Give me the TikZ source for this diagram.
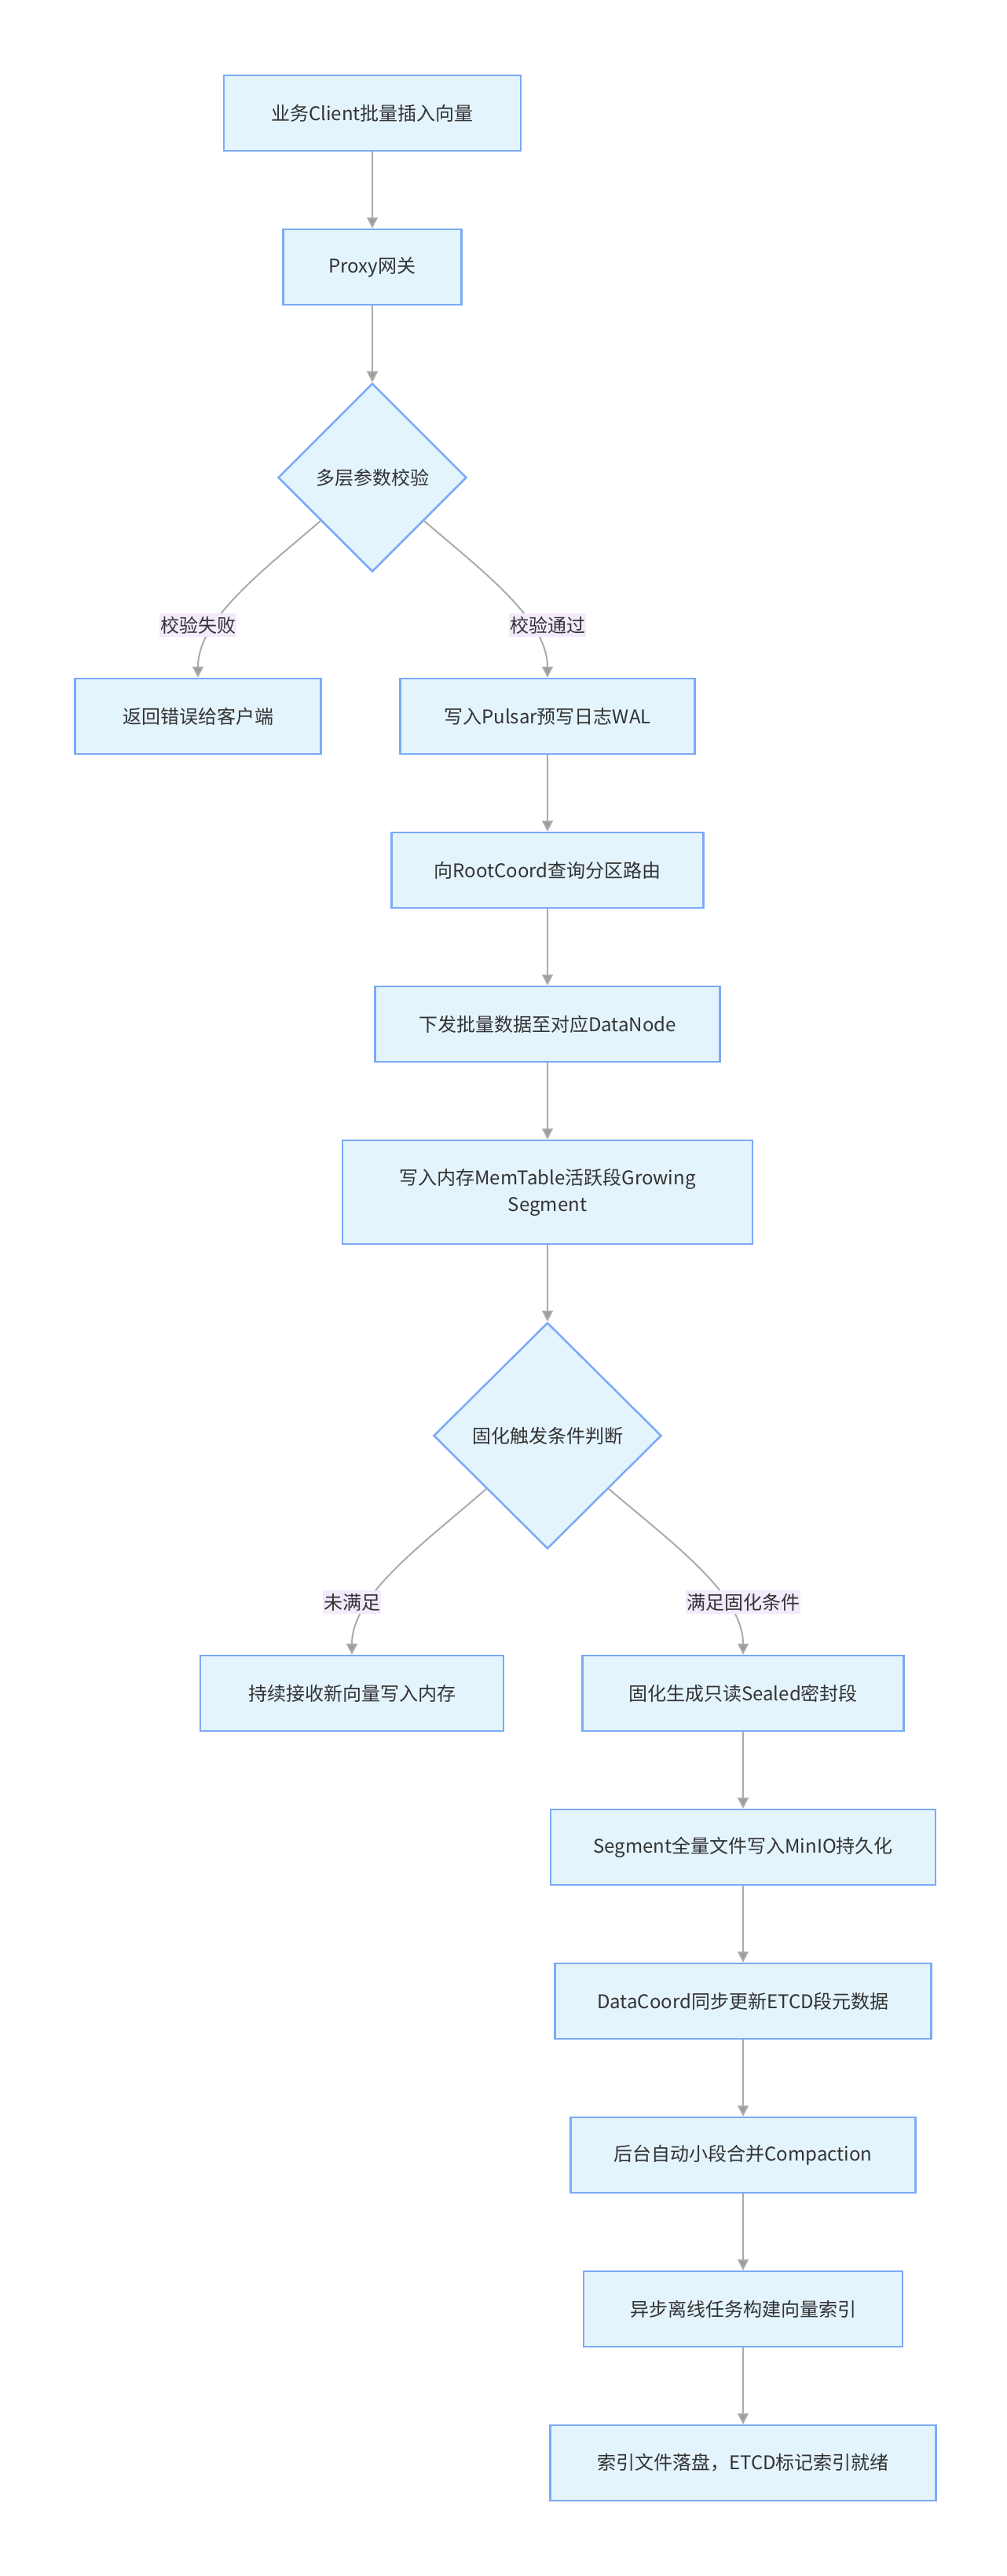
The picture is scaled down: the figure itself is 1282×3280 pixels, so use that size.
\documentclass[tikz,border=0pt]{standalone}
\usepackage{fontspec}
\setmainfont{Noto Sans CJK SC}
\usepackage{xcolor}
\usepackage{tikz}
\usetikzlibrary{positioning,shapes.geometric,arrows.meta}
\definecolor{paleblue}{HTML}{E4F4FD}
\definecolor{edgeblue}{HTML}{7BAAF7}
\definecolor{lilac}{HTML}{F3EAFB}
\definecolor{linegray}{HTML}{ABABAB}
\definecolor{tipgray}{HTML}{9C9C9C}
\definecolor{inkgray}{HTML}{333333}

\begin{document}
\begin{tikzpicture}[
   x=1pt, y=1pt,
   every node/.append style={align=center, text=inkgray, font=\fontsize{24}{34}\selectfont},
   stepbox/.style={rectangle, draw=edgeblue, fill=paleblue, line width=2.5pt, minimum height=96pt, inner sep=0pt},
   choice/.style={diamond, draw=edgeblue, fill=paleblue, line width=2.5pt, inner sep=0pt},
   flow/.style={draw=linegray, line width=2pt, -{Triangle[width=14pt,length=14pt,fill=tipgray]}},
   tag/.style={fill=lilac, inner xsep=1pt, inner ysep=4pt}
]
\useasboundingbox (0,0) rectangle (1282,-3280);

\node[stepbox, minimum width=378pt] (client) at (474,-144) {业务Client批量插入向量};
\node[stepbox, minimum width=227pt] (proxy) at (474,-340) {Proxy网关};
\node[choice, minimum width=240pt, minimum height=240pt] (check) at (474,-608) {多层参数校验};
\node[stepbox, minimum width=313pt] (fail) at (252,-912) {返回错误给客户端};
\node[stepbox, minimum width=375pt] (wal) at (697,-912) {写入Pulsar预写日志WAL};
\node[stepbox, minimum width=397pt] (route) at (697,-1108) {向RootCoord查询分区路由};
\node[stepbox, minimum width=439pt] (dispatch) at (697,-1304) {下发批量数据至对应DataNode};
\node[stepbox, minimum width=522pt, minimum height=132pt] (memtable) at (697,-1518) {写入内存MemTable活跃段Growing\\Segment};
\node[choice, minimum width=290pt, minimum height=288pt] (seal) at (697,-1828) {固化触发条件判断};
\node[stepbox, minimum width=386pt] (keep) at (448,-2156) {持续接收新向量写入内存};
\node[stepbox, minimum width=409pt] (sealed) at (946,-2156) {固化生成只读Sealed密封段};
\node[stepbox, minimum width=490pt] (minio) at (946,-2352) {Segment全量文件写入MinIO持久化};
\node[stepbox, minimum width=479pt] (meta) at (946,-2548) {DataCoord同步更新ETCD段元数据};
\node[stepbox, minimum width=439pt] (compact) at (946,-2744) {后台自动小段合并Compaction};
\node[stepbox, minimum width=406pt] (build) at (946,-2940) {异步离线任务构建向量索引};
\node[stepbox, minimum width=491pt] (ready) at (946,-3136) {索引文件落盘，ETCD标记索引就绪};

\draw[flow] (client) -- (proxy);
\draw[flow] (proxy) -- (check);
\draw[flow] (check.220) .. controls (330,-730) and (252,-790) .. (fail);
\draw[flow] (check.320) .. controls (618,-730) and (697,-790) .. (wal);
\draw[flow] (wal) -- (route);
\draw[flow] (route) -- (dispatch);
\draw[flow] (dispatch) -- (memtable);
\draw[flow] (memtable) -- (seal);
\draw[flow] (seal.221) .. controls (540,-1965) and (448,-2030) .. (keep);
\draw[flow] (seal.319) .. controls (856,-1965) and (946,-2030) .. (sealed);
\draw[flow] (sealed) -- (minio);
\draw[flow] (minio) -- (meta);
\draw[flow] (meta) -- (compact);
\draw[flow] (compact) -- (build);
\draw[flow] (build) -- (ready);

\node[tag] (failtag) at (252,-796) {校验失败};
\node[tag] (passtag) at (697,-796) {校验通过};
\node[tag] (notyet) at (448,-2040) {未满足};
\node[tag] (met) at (946,-2040) {满足固化条件};
\end{tikzpicture}
\end{document}
